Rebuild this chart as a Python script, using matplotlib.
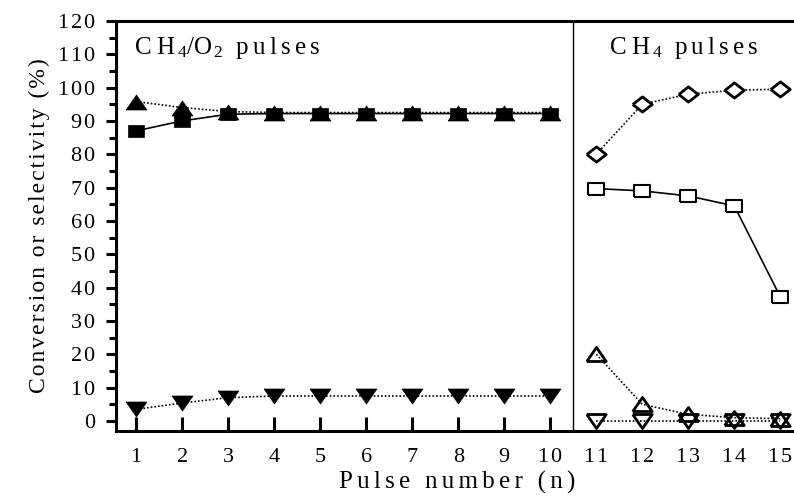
import matplotlib
matplotlib.use("Agg")
import matplotlib.pyplot as plt
import numpy as np

plt.rcParams['font.family'] = ['Liberation Serif', 'DejaVu Serif']
plt.rcParams['mathtext.fontset'] = 'custom'
plt.rcParams['mathtext.rm'] = 'Liberation Serif'
plt.rcParams['mathtext.it'] = 'Liberation Serif:italic'

# CH4/O2 pulses (1-10)
pulse_a = [1, 2, 3, 4, 5, 6, 7, 8, 9, 10]
tri_up_filled = [95.8, 94.0, 92.8, 92.5, 92.5, 92.5, 92.5, 92.5, 92.5, 92.5]
square_filled = [87.0, 90.0, 92.0, 92.2, 92.2, 92.2, 92.2, 92.2, 92.2, 92.2]
tri_down_filled = [3.5, 5.4, 7.0, 7.5, 7.5, 7.5, 7.5, 7.5, 7.5, 7.5]

# CH4 pulses (11-15)
pulse_b = [11, 12, 13, 14, 15]
diamond_open = [80.0, 95.0, 98.0, 99.2, 99.5]
square_open = [69.7, 69.0, 67.5, 64.5, 37.2]
tri_up_open = [20.0, 5.0, 2.0, 1.0, 0.7]
tri_down_open = [0.0, 0.0, 0.0, 0.0, 0.0]

xticks = list(range(1, 16))
yticks = list(range(0, 121, 10))

HS = '\u200a'


def spaced(s, n=1):
    return (HS * n).join(s)


# flattened marker shapes (the reference is horizontally stretched)
h = 0.72
m_up = [(-1, -h), (1, -h), (0, h), (-1, -h)]
m_down = [(-1, h), (1, h), (0, -h), (-1, h)]
m_sq = [(-1, -0.76), (1, -0.76), (1, 0.76), (-1, 0.76), (-1, -0.76)]
m_dia = [(-1, 0), (0, -0.78), (1, 0), (0, 0.78), (-1, 0)]

fig = plt.figure(figsize=(7.94, 4.96), dpi=100)
ax = fig.add_axes([0.146, 0.131, 0.86, 0.827])

dot = (0, (1, 1.2))
ax.plot(pulse_a, tri_up_filled, linestyle=dot, color='black', lw=1.2,
        marker=m_up, ms=15, mfc='black', mec='black', mew=0.5, zorder=3)
ax.plot(pulse_a, square_filled, linestyle='-', color='black', lw=1.2,
        marker=m_sq, ms=12, mfc='black', mec='black', mew=0.5, zorder=3)
ax.plot(pulse_a, tri_down_filled, linestyle=dot, color='black', lw=1.2,
        marker=m_down, ms=15, mfc='black', mec='black', mew=0.5, zorder=3)

ax.plot(pulse_b, diamond_open, linestyle=dot, color='black', lw=1.2,
        marker=m_dia, ms=14, mfc='white', mec='black', mew=2, zorder=3)
ax.plot(pulse_b, square_open, linestyle='-', color='black', lw=1.2,
        marker=m_sq, ms=11, mfc='white', mec='black', mew=1.5, zorder=3)
ax.plot(pulse_b, tri_up_open, linestyle=dot, color='black', lw=1.2,
        marker=m_up, ms=14, mfc='none', mec='black', mew=2, zorder=4)
ax.plot(pulse_b, tri_down_open, linestyle=dot, color='black', lw=1.2,
        marker=m_down, ms=14, mfc='none', mec='black', mew=2, zorder=3)

ax.axvline(10.5, color='black', lw=1.0)

ax.set_xlim(0.56, 15.4)
ax.set_ylim(-3, 120)

ax.set_yticks(yticks)
ax.set_yticks(np.arange(0, 121, 5), minor=True)
ax.set_xticks(xticks)
ax.set_xticklabels([spaced(str(v)) for v in xticks])
ax.set_yticklabels([spaced(str(v)) for v in yticks])

ax.tick_params(axis='y', which='major', direction='out', length=7, width=2.2,
               labelsize=16, pad=8)
ax.tick_params(axis='y', which='minor', direction='out', length=5, width=2.2)
ax.tick_params(axis='x', which='major', direction='in', length=10, width=2.2,
               labelsize=16, pad=12)

# no tick marks for 11-15 (labels kept)
for t in ax.xaxis.get_major_ticks()[10:]:
    t.tick1line.set_visible(False)

for s in ['left', 'bottom', 'top']:
    ax.spines[s].set_linewidth(2.2)
ax.spines['right'].set_visible(False)

ax.set_xlabel(spaced('Pulse number (n)', 2), fontsize=18, labelpad=3)
ax.set_ylabel(spaced('Conversion or selectivity (%)'), fontsize=17, labelpad=6)

ax.text(0.95, 112, 'C' + HS * 3 + 'H' + r'$_{\,4}$' + '/O' + r'$_{\,2}$' + '  '
        + spaced('pulses', 2), fontsize=18, ha='left', va='center')
ax.text(12.9, 112, 'C' + HS * 3 + 'H' + r'$_{\,4}$' + '  ' + spaced('pulses', 2),
        fontsize=18, ha='center', va='center')

fig.savefig('out.png', dpi=100)
